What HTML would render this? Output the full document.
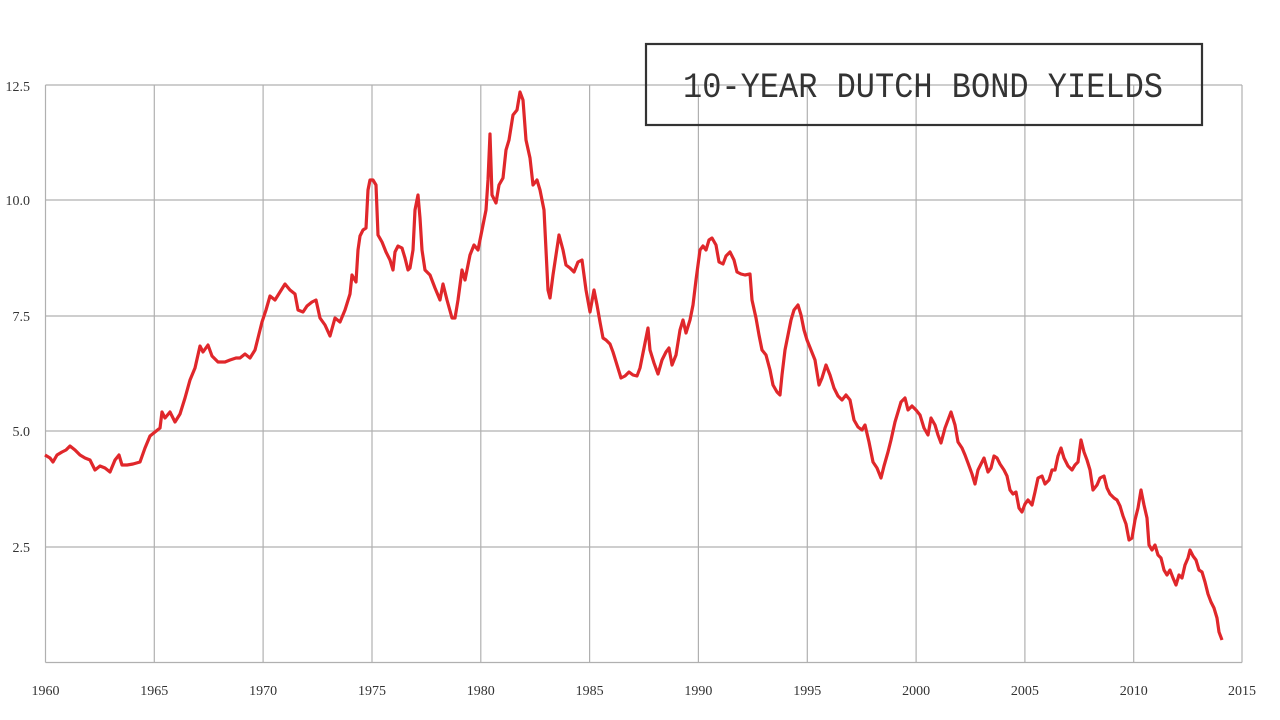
<!DOCTYPE html>
<html><head><meta charset="utf-8"><style>html,body{margin:0;padding:0;background:#fff;width:1280px;height:720px;overflow:hidden}</style></head>
<body>
<svg width="1280" height="720" viewBox="0 0 1280 720" xmlns="http://www.w3.org/2000/svg">
<g stroke="#b0b0b0" stroke-width="1.2" fill="none">
<line x1="45.5" y1="85" x2="1242" y2="85"/>
<line x1="45.5" y1="200" x2="1242" y2="200"/>
<line x1="45.5" y1="316" x2="1242" y2="316"/>
<line x1="45.5" y1="431" x2="1242" y2="431"/>
<line x1="45.5" y1="547" x2="1242" y2="547"/>
<line x1="45.5" y1="662.5" x2="1242" y2="662.5"/>
<line x1="45.5" y1="85" x2="45.5" y2="662.5"/>
<line x1="154.3" y1="85" x2="154.3" y2="662.5"/>
<line x1="263.1" y1="85" x2="263.1" y2="662.5"/>
<line x1="372" y1="85" x2="372" y2="662.5"/>
<line x1="480.8" y1="85" x2="480.8" y2="662.5"/>
<line x1="589.6" y1="85" x2="589.6" y2="662.5"/>
<line x1="698.4" y1="85" x2="698.4" y2="662.5"/>
<line x1="807.3" y1="85" x2="807.3" y2="662.5"/>
<line x1="916.1" y1="85" x2="916.1" y2="662.5"/>
<line x1="1024.9" y1="85" x2="1024.9" y2="662.5"/>
<line x1="1133.7" y1="85" x2="1133.7" y2="662.5"/>
<line x1="1242" y1="85" x2="1242" y2="662.5"/>
</g>
<g font-family="Liberation Serif, serif" font-size="14" fill="#333">
<text x="30" y="91" text-anchor="end">12.5</text>
<text x="30" y="205" text-anchor="end">10.0</text>
<text x="30" y="321" text-anchor="end">7.5</text>
<text x="30" y="436" text-anchor="end">5.0</text>
<text x="30" y="552" text-anchor="end">2.5</text>
<g text-anchor="middle">
<text x="45.5" y="695">1960</text><text x="154.3" y="695">1965</text><text x="263.1" y="695">1970</text><text x="372" y="695">1975</text><text x="480.8" y="695">1980</text><text x="589.6" y="695">1985</text><text x="698.4" y="695">1990</text><text x="807.3" y="695">1995</text><text x="916.1" y="695">2000</text><text x="1024.9" y="695">2005</text><text x="1133.7" y="695">2010</text><text x="1242" y="695">2015</text>
</g></g>
<polyline fill="none" stroke="#e0272b" stroke-width="3.2" stroke-linejoin="round" points="45,455 50,458 53,462 57,455 62,452 66,450 70,446 75,450 80,455 85,458 90,460 95,470 100,466 105,468 110,472 115,460 119,455 122,465 127,465 133,464 140,462 145,448 150,436 155,432 160,428 162,412 165,418 170,412 175,422 180,414 185,398 190,380 195,368 200,346 203,352 208,345 212,356 218,362 225,362 230,360 236,358 240,358 245,354 250,358 255,350 258,338 262,322 266,310 270,296 275,300 280,292 285,284 290,290 295,294 298,310 303,312 307,306 312,302 316,300 320,318 325,325 330,336 335,318 340,322 345,310 350,294 352,275 356,282 358,250 360,236 363,230 366,228 368,190 370,180 373,180 376,185 378,235 382,242 386,252 390,260 393,270 395,252 398,246 402,248 405,258 408,270 410,268 413,250 415,210 418,195 420,218 422,250 425,270 430,275 435,288 440,300 443,284 447,300 452,318 455,318 458,300 462,270 465,280 470,255 474,245 478,250 482,230 486,210 488,180 490,134 492,195 496,203 499,185 503,178 506,150 509,140 513,115 517,110 520,92 523,100 526,140 530,158 533,185 537,180 540,190 544,210 546,250 548,290 550,298 553,275 556,255 559,235 563,250 566,265 570,268 574,272 578,262 582,260 586,290 590,312 594,290 597,305 600,322 603,338 606,340 610,344 613,352 617,365 621,378 625,376 629,372 633,375 637,376 640,368 644,348 648,328 650,350 654,363 658,374 662,360 666,352 669,348 672,365 676,355 680,330 683,320 686,333 690,320 693,305 696,280 700,250 703,246 706,250 709,240 712,238 716,245 719,262 723,264 726,256 730,252 734,260 737,272 741,274 745,275 750,274 752,300 756,318 759,335 762,350 766,355 770,370 773,385 777,392 780,395 782,375 785,350 788,335 791,320 794,310 798,305 801,315 804,330 807,340 811,350 815,360 819,385 822,378 826,365 830,375 834,388 838,396 842,400 846,395 850,400 854,420 858,427 862,430 865,425 869,442 873,462 877,468 881,478 884,466 888,452 891,440 895,422 898,412 901,402 905,398 908,410 912,406 916,410 920,415 924,428 928,435 931,418 935,425 938,435 941,443 945,428 948,420 951,412 955,425 958,442 962,448 965,455 968,463 972,474 975,484 978,470 981,464 984,458 988,472 991,468 994,456 997,458 1000,464 1004,470 1007,476 1010,490 1013,494 1016,492 1019,508 1022,512 1025,504 1028,500 1032,505 1035,492 1038,478 1042,476 1045,484 1049,480 1052,470 1055,470 1058,456 1061,448 1064,458 1068,466 1072,470 1075,465 1078,462 1081,440 1084,452 1087,460 1090,470 1093,490 1097,485 1100,478 1104,476 1107,488 1110,494 1114,498 1117,500 1120,506 1123,516 1126,524 1129,540 1132,538 1135,520 1138,508 1141,490 1144,505 1147,518 1149,545 1152,550 1155,545 1158,555 1161,558 1164,570 1167,575 1170,570 1173,578 1176,585 1179,575 1182,578 1185,565 1188,558 1190,550 1193,556 1196,560 1199,570 1202,572 1205,582 1208,594 1211,602 1214,608 1217,618 1219,632 1222,640"/>
<rect x="646" y="44" width="556" height="81" fill="none" stroke="#333" stroke-width="2.2"/>
<text x="683" y="97" font-family="Liberation Mono, monospace" font-size="35" fill="#333" textLength="480" lengthAdjust="spacingAndGlyphs">10-YEAR DUTCH BOND YIELDS</text>
</svg>
</body></html>
